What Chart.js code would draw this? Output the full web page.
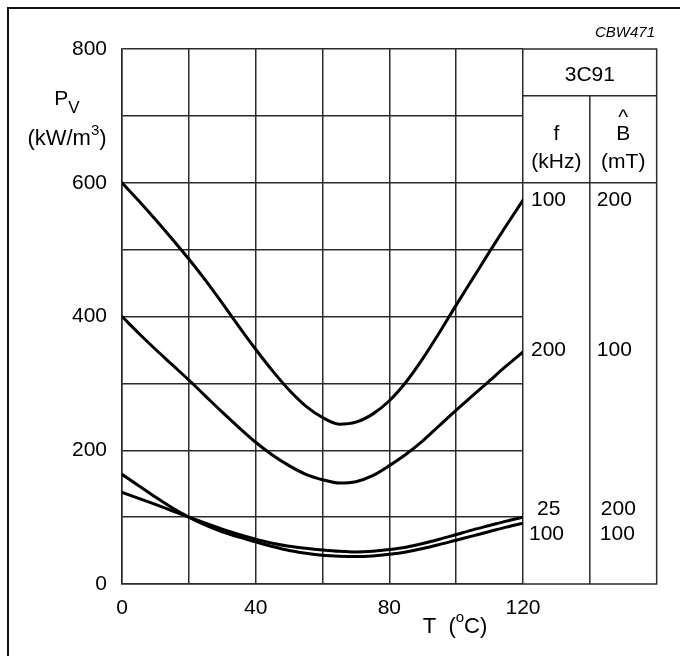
<!DOCTYPE html>
<html><head><meta charset="utf-8">
<script src="https://cdn.jsdelivr.net/npm/chart.js@4.4.0/dist/chart.umd.min.js"></script>
<style>html,body{margin:0;padding:0;background:#fff;}#wrap{width:680px;height:656px;position:relative;}</style>
</head><body><div id="wrap"><canvas id="c" width="680" height="656"></canvas></div>
<script>
// ---- data ----
const temperatures   = [0, 5, 10, 15, 20, 25, 30, 35, 40, 45, 50, 55, 60, 65, 70, 75, 80, 85, 90, 95, 100, 105, 110, 115, 120];
const loss100k200mT  = [600, 573, 545, 516, 486, 454, 420, 385, 351, 319, 290, 266, 249, 239, 242, 254, 274, 302, 337, 376, 417, 457, 497, 536, 574];
const loss200k100mT  = [400, 375, 351, 328, 305, 281, 257, 234, 212, 193, 177, 164, 156, 151, 153, 162, 177, 194, 214, 237, 260, 282, 304, 326, 347];
const loss25k200mT   = [137, 128, 119, 109.5, 100, 91, 82, 74, 67, 61, 56.5, 53.5, 51, 49, 48, 49, 51.5, 55, 60.5, 67, 74, 81, 87.5, 94, 100];
const loss100k100mT  = [164, 147, 130, 114, 100, 88, 78, 70, 63, 56, 50, 46, 43, 41.5, 41, 42, 44.5, 48, 53, 59, 65.5, 72, 78.5, 85, 91];
const xTickLabels = [0, 40, 80, 120];
const yTickLabels = [0, 200, 400, 600, 800];
const materialName = '3C91';
const freqColumn = ['100', '200', '25', '100'];
const fluxColumn = ['200', '100', '200', '100'];
const figureCode = 'CBW471';

const FONT = "'Liberation Sans', Arial, Helvetica, sans-serif";
const GRID = '#2b2b2b';
const pts = arr => temperatures.map((t, i) => ({x: t, y: arr[i]}));
const curve = arr => ({data: pts(arr), borderColor: '#000', borderWidth: 3, pointRadius: 0,
  fill: false, cubicInterpolationMode: 'monotone', borderCapStyle: 'round', borderJoinStyle: 'round'});

const decor = {
  id: 'decor',
  afterDraw(chart) {
    const ctx = chart.ctx, xs = chart.scales.x, ys = chart.scales.y;
    const X = v => xs.getPixelForValue(v), Y = v => ys.getPixelForValue(v);
    ctx.save();
    // outer frame (left & top)
    ctx.strokeStyle = '#111'; ctx.lineWidth = 2;
    ctx.beginPath(); ctx.moveTo(8, 660); ctx.lineTo(8, 8); ctx.lineTo(690, 8); ctx.stroke();
    // table lines
    ctx.strokeStyle = GRID; ctx.lineWidth = 1.5;
    const x120 = X(120), x140 = X(140), x160 = X(160);
    ctx.beginPath();
    ctx.moveTo(x120, Y(800)); ctx.lineTo(x160, Y(800)); ctx.lineTo(x160, Y(0)); ctx.lineTo(x120, Y(0));
    ctx.moveTo(x120, Y(730)); ctx.lineTo(x160, Y(730));
    ctx.moveTo(x120, Y(600)); ctx.lineTo(x160, Y(600));
    ctx.moveTo(x140, Y(730)); ctx.lineTo(x140, Y(0));
    ctx.stroke();
    // table texts
    ctx.fillStyle = '#000';
    ctx.font = `21px ${FONT}`;
    ctx.textAlign = 'center'; ctx.textBaseline = 'alphabetic';
    const c1 = (x120 + x140) / 2, c2 = (x140 + x160) / 2;
    ctx.fillText(materialName, (x120 + x160) / 2, 81);
    ctx.fillText('f', c1, 140);
    ctx.fillText('(kHz)', c1, 168);
    ctx.fillText('B', c2, 140);
    ctx.fillText('^', c2, 124);
    ctx.fillText('(mT)', c2, 168);
    ctx.textAlign = 'left';
    const endA = loss100k200mT[loss100k200mT.length - 1];
    const endB = loss200k100mT[loss200k100mT.length - 1];
    const endC = loss25k200mT[loss25k200mT.length - 1];
    const rows = [Y(endA) + 6, Y(endB) + 4, Y(endC) - 2, Y(endC) + 23];
    const f1x = [x120 + 8, x120 + 8, x120 + 14, x120 + 6];
    const f2x = [x140 + 7, x140 + 7, x140 + 11, x140 + 10];
    rows.forEach((yb, i) => {
      ctx.fillText(freqColumn[i], f1x[i], yb);
      ctx.fillText(fluxColumn[i], f2x[i], yb);
    });
    // figure code
    ctx.font = `italic 15px ${FONT}`; ctx.textAlign = 'right';
    ctx.fillText(figureCode, 655, 37);
    // y title: P_V (kW/m^3)
    ctx.textAlign = 'left';
    ctx.font = `21px ${FONT}`;
    const wP = ctx.measureText('P').width;
    ctx.font = `17px ${FONT}`;
    const wV = ctx.measureText('V').width;
    const px = 67 - (wP + wV) / 2;
    ctx.font = `21px ${FONT}`; ctx.fillText('P', px, 105);
    ctx.font = `17px ${FONT}`; ctx.fillText('V', px + wP, 113);
    ctx.font = `22px ${FONT}`;
    const w1 = ctx.measureText('(kW/m').width, w3 = ctx.measureText(')').width;
    ctx.font = `15px ${FONT}`;
    const w2 = ctx.measureText('3').width;
    const sx = 67 - (w1 + w2 + w3) / 2;
    ctx.font = `22px ${FONT}`; ctx.fillText('(kW/m', sx, 145);
    ctx.font = `15px ${FONT}`; ctx.fillText('3', sx + w1, 135);
    ctx.font = `22px ${FONT}`; ctx.fillText(')', sx + w1 + w2, 145);
    // x title: T (oC)
    ctx.font = `22px ${FONT}`;
    const tA = 'T  (', tC = 'C)';
    const wa = ctx.measureText(tA).width, wc = ctx.measureText(tC).width;
    ctx.font = `15px ${FONT}`;
    const wo = ctx.measureText('o').width;
    const tx = 455 - (wa + wo + wc) / 2;
    ctx.font = `22px ${FONT}`; ctx.fillText(tA, tx, 633);
    ctx.font = `15px ${FONT}`; ctx.fillText('o', tx + wa, 622);
    ctx.font = `22px ${FONT}`; ctx.fillText(tC, tx + wa + wo, 633);
    ctx.restore();
  }
};

new Chart(document.getElementById('c'), {
  type: 'line',
  data: {datasets: [curve(loss100k200mT), curve(loss200k100mT), curve(loss25k200mT), curve(loss100k100mT)]},
  options: {
    responsive: false, animation: false, devicePixelRatio: 1,
    layout: {padding: {left: 0, top: 49, right: 157, bottom: 0}},
    plugins: {legend: {display: false}, tooltip: {enabled: false}},
    scales: {
      x: {
        type: 'linear', min: 0, max: 120,
        afterFit: s => { s.height = 72; },
        ticks: {stepSize: 20, autoSkip: false, maxRotation: 0, padding: 12, color: '#000',
          font: {family: FONT, size: 21},
          callback: v => xTickLabels.includes(v) ? String(v) : ''},
        grid: {color: GRID, lineWidth: 1.5, drawTicks: false},
        border: {color: GRID, width: 1.5}
      },
      y: {
        type: 'linear', min: 0, max: 800,
        afterFit: s => { s.width = 122; },
        ticks: {stepSize: 100, autoSkip: false, padding: 15, color: '#000',
          font: {family: FONT, size: 21},
          callback: v => yTickLabels.includes(v) ? String(v) : ''},
        grid: {color: GRID, lineWidth: 1.5, drawTicks: false},
        border: {color: GRID, width: 1.5}
      }
    }
  },
  plugins: [decor]
});
</script></body></html>
